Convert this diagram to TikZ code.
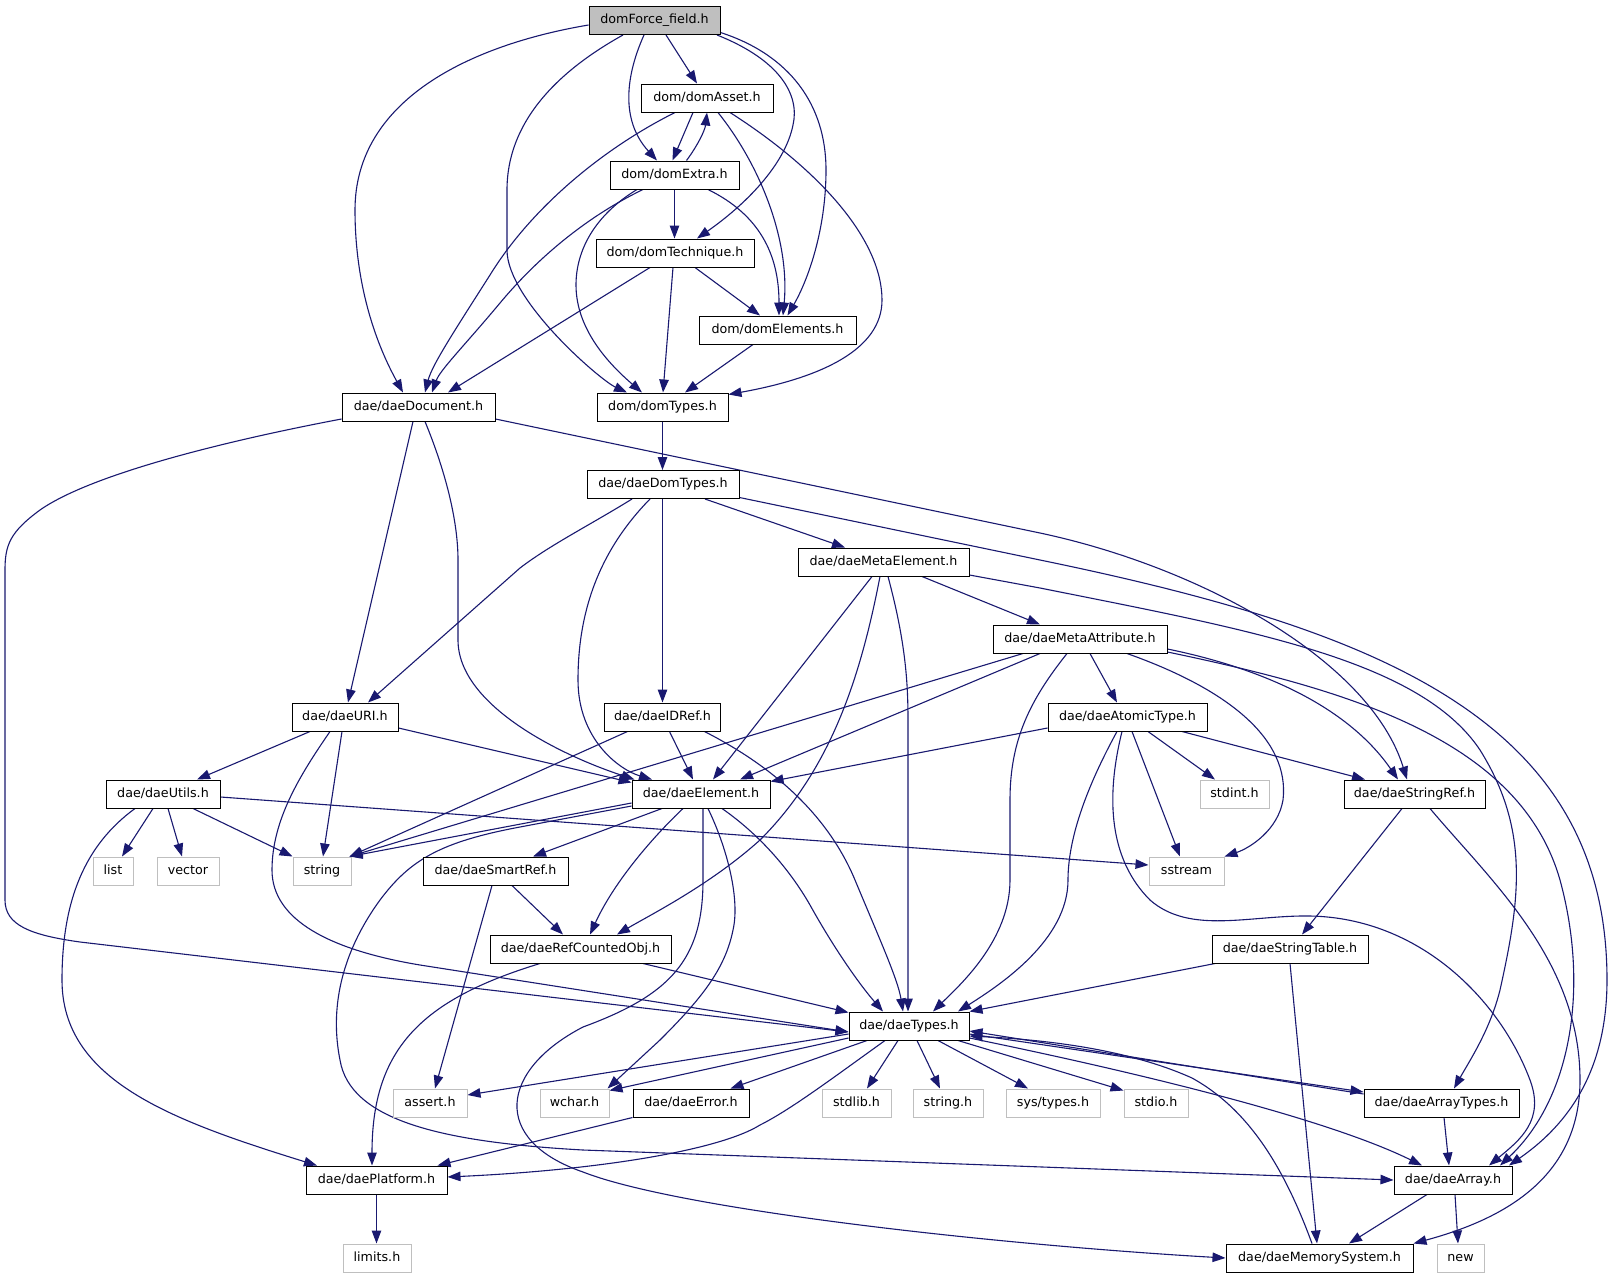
\documentclass[tikz,border=0pt]{standalone}
\usepackage{fontspec}
\newfontfamily\hfont{DejaVu Sans}
\usetikzlibrary{arrows.meta,backgrounds,calc}
\definecolor{edgeblue}{HTML}{191970}
\definecolor{sysgray}{HTML}{BFBFBF}
\begin{document}
\begin{tikzpicture}[x=1pt,y=-1pt,
  hdr/.style={draw=black, line width=1pt, fill=white, minimum height=28pt, inner sep=0pt,
    text height=9.3pt, text depth=2.5pt, font=\hfont\fontsize{12.7pt}{15pt}\selectfont},
  sys/.style={hdr, draw=sysgray},
  rootn/.style={hdr, fill=sysgray},
  edge/.style={draw=edgeblue, line width=1.1pt, -{Triangle[length=13pt,width=9.5pt]}}]
\useasboundingbox (0,0) rectangle (1612,1277);
% nodes
\node[rootn, minimum width=131pt] (root) at (654.5,20.5) {domForce\_field.h};
\node[hdr, minimum width=132pt] (asset) at (707,98) {dom/domAsset.h};
\node[hdr, minimum width=129pt] (extra) at (674.5,175) {dom/domExtra.h};
\node[hdr, minimum width=158pt] (tech) at (675,253) {dom/domTechnique.h};
\node[hdr, minimum width=157pt] (elems) at (777.5,330) {dom/domElements.h};
\node[hdr, minimum width=153pt] (doc) at (418.5,407) {dae/daeDocument.h};
\node[hdr, minimum width=131pt] (domtypes) at (662.5,407) {dom/domTypes.h};
\node[hdr, minimum width=152pt] (ddt) at (663,484.5) {dae/daeDomTypes.h};
\node[hdr, minimum width=171pt] (metael) at (883.5,562) {dae/daeMetaElement.h};
\node[hdr, minimum width=174pt] (metaattr) at (1080,639) {dae/daeMetaAttribute.h};
\node[hdr, minimum width=106pt] (uri) at (345,717) {dae/daeURI.h};
\node[hdr, minimum width=116pt] (idref) at (662.5,717) {dae/daeIDRef.h};
\node[hdr, minimum width=159pt] (atomic) at (1127.5,717) {dae/daeAtomicType.h};
\node[hdr, minimum width=114pt] (utils) at (163,794) {dae/daeUtils.h};
\node[hdr, minimum width=138pt] (element) at (701,794) {dae/daeElement.h};
\node[sys, minimum width=69pt] (stdint) at (1234.5,794) {stdint.h};
\node[hdr, minimum width=141pt] (stringref) at (1414.5,794) {dae/daeStringRef.h};
\node[sys, minimum width=40pt] (list) at (113,871) {list};
\node[sys, minimum width=62pt] (vector) at (188,871) {vector};
\node[sys, minimum width=58pt] (string) at (322,871) {string};
\node[hdr, minimum width=145pt] (smartref) at (495.5,871) {dae/daeSmartRef.h};
\node[sys, minimum width=75pt] (sstream) at (1186.5,871) {sstream};
\node[hdr, minimum width=181pt] (refc) at (580.5,949) {dae/daeRefCountedObj.h};
\node[hdr, minimum width=156pt] (stable) at (1290,949) {dae/daeStringTable.h};
\node[hdr, minimum width=120pt] (types) at (909,1026) {dae/daeTypes.h};
\node[sys, minimum width=74pt] (assert) at (430,1103) {assert.h};
\node[sys, minimum width=69pt] (wchar) at (574.5,1103) {wchar.h};
\node[hdr, minimum width=116pt] (error) at (691,1103) {dae/daeError.h};
\node[sys, minimum width=69pt] (stdlib) at (856.5,1103) {stdlib.h};
\node[sys, minimum width=70pt] (stringh) at (948,1103) {string.h};
\node[sys, minimum width=94pt] (systypes) at (1053,1103) {sys/types.h};
\node[sys, minimum width=64pt] (stdio) at (1156,1103) {stdio.h};
\node[hdr, minimum width=155pt] (arrt) at (1441.5,1103) {dae/daeArrayTypes.h};
\node[hdr, minimum width=141pt] (platform) at (376.5,1180) {dae/daePlatform.h};
\node[hdr, minimum width=118pt] (array) at (1453,1180) {dae/daeArray.h};
\node[sys, minimum width=68pt] (limits) at (377,1258) {limits.h};
\node[hdr, minimum width=187pt] (memsys) at (1319.5,1258) {dae/daeMemorySystem.h};
\node[sys, minimum width=47pt] (nnew) at (1460.5,1258) {new};
\begin{pgfonlayer}{background}
\fill[white] (0,0) rectangle (1612,1277);
% root
\draw[edge] ([yshift=-4.5pt]root.west) .. controls (470,45) and (355,100) .. (355,210) .. controls (355,300) and (385,360) .. ([xshift=-15.5pt]doc.north);
\draw[edge] ([xshift=-31.5pt]root.south) .. controls (560,70) and (507,120) .. (507,190) -- (507,250) .. controls (507,300) and (600,380) .. ([xshift=-35.5pt]domtypes.north);
\draw[edge] ([xshift=-10.5pt]root.south) .. controls (626,75) and (620,120) .. ([xshift=-17.5pt]extra.north);
\draw[edge] ([xshift=11.5pt]root.south) -- ([xshift=-10pt]asset.north);
\draw[edge] ([xshift=62.5pt]root.south) .. controls (780,60) and (800,95) .. (793,125) .. controls (785,165) and (745,205) .. ([xshift=22pt]tech.north);
\draw[edge] ([yshift=2.5pt]root.south east) .. controls (790,55) and (826,105) .. (826,170) .. controls (826,230) and (808,280) .. ([xshift=10pt]elems.north);
% asset
\draw[edge] ([xshift=-14pt]asset.south) -- ([xshift=-2pt]extra.north);
\draw[edge] ([xshift=12pt]extra.north) .. controls (698,145) and (705,130) .. (asset.south);
\draw[edge] ([xshift=-32pt]asset.south) .. controls (600,150) and (530,210) .. (490,275) .. controls (455,330) and (432,365) .. ([xshift=6.5pt]doc.north);
\draw[edge] ([xshift=11pt]asset.south) .. controls (760,165) and (790,240) .. ([xshift=5.5pt]elems.north);
\draw[edge] ([xshift=23pt]asset.south) .. controls (820,170) and (882,240) .. (882,300) .. controls (882,350) and (820,378) .. ([yshift=-2pt]domtypes.north east);
% extra
\draw[edge] (extra.south) -- (extra.south |- tech.north);
\draw[edge] ([xshift=-31.5pt]extra.south) .. controls (590,215) and (540,255) .. (500,303) .. controls (465,345) and (440,370) .. ([xshift=13.5pt]doc.north);
\draw[edge] ([xshift=-37.5pt]extra.south) .. controls (595,215) and (576,250) .. (576,285) .. controls (576,330) and (610,365) .. ([xshift=-20.5pt]domtypes.north);
\draw[edge] ([xshift=33.5pt]extra.south) .. controls (760,215) and (779,255) .. ([xshift=1.5pt]elems.north);
% tech, elems, domtypes
\draw[edge] ([xshift=-25pt]tech.south) -- ([xshift=29.5pt]doc.north);
\draw[edge] ([xshift=-2pt]tech.south) -- ([xshift=0.5pt]domtypes.north);
\draw[edge] ([xshift=20pt]tech.south) -- ([xshift=-17.5pt]elems.north);
\draw[edge] ([xshift=-24.5pt]elems.south) -- ([xshift=22.5pt]domtypes.north);
\draw[edge] (domtypes.south) -- (domtypes.south |- ddt.north);
% doc
\draw[edge] ([yshift=-12pt]doc.west) .. controls (220,442) and (90,475) .. (40,510) .. controls (10,532) and (5,545) .. (5,570) -- (5,900) .. controls (5,925) and (30,935) .. (80,942) -- ([yshift=-6pt]types.west);
\draw[edge] ([xshift=-5.5pt]doc.south) -- ([xshift=3pt]uri.north);
\draw[edge] ([xshift=6.5pt]doc.south) .. controls (445,470) and (458,520) .. (458,560) -- (458,640) .. controls (458,705) and (560,755) .. ([xshift=3pt]element.north west);
\draw[edge] ([yshift=-12pt]doc.east) -- (1040,533) .. controls (1200,567) and (1370,660) .. ([xshift=-7.5pt]stringref.north);
% ddt
\draw[edge] ([xshift=-31pt]ddt.south) .. controls (590,525) and (550,545) .. (520,568) -- ([xshift=23pt]uri.north);
\draw[edge] ([xshift=-13pt]ddt.south) .. controls (600,550) and (578,610) .. (578,680) .. controls (578,740) and (620,770) .. ([xshift=-49pt]element.north);
\draw[edge] ([xshift=-0.5pt]ddt.south) -- (idref.north);
\draw[edge] ([xshift=42pt]ddt.south) -- ([xshift=-38.5pt]metael.north);
\draw[edge] ([yshift=-13pt]ddt.east) -- (1040,560) .. controls (1380,630) and (1607,720) .. (1607,980) .. controls (1607,1080) and (1560,1130) .. ([xshift=56pt]array.north);
% metael
\draw[edge] ([xshift=38.5pt]metael.south) -- ([xshift=-40pt]metaattr.north);
\draw[edge] ([xshift=-11.5pt]metael.south) -- ([xshift=12pt]element.north);
\draw[edge] ([xshift=-3.5pt]metael.south) .. controls (860,680) and (830,770) .. (760,840) .. controls (710,885) and (650,915) .. ([xshift=36.5pt]refc.north);
\draw[edge] ([xshift=4.5pt]metael.south) .. controls (905,640) and (908,680) .. (908,720) -- ([xshift=-1pt]types.north);
\draw[edge] ([yshift=-13pt]metael.east) -- (1040,588) .. controls (1250,630) and (1420,660) .. (1480,750) .. controls (1530,830) and (1520,900) .. (1500,990) .. controls (1490,1030) and (1470,1060) .. ([xshift=12.5pt]arrt.north);
% metaattr
\draw[edge] ([xshift=10pt]metaattr.south) -- ([xshift=-10.5pt]atomic.north);
\draw[edge] ([xshift=-40pt]metaattr.south) -- ([xshift=39pt]element.north);
\draw[edge] ([xshift=-57pt]metaattr.south) -- ([xshift=-2pt]string.north east);
\draw[edge] ([xshift=-13pt]metaattr.south) .. controls (1030,700) and (1010,740) .. (1010,800) -- (1010,880) .. controls (1010,940) and (960,985) .. ([xshift=24pt]types.north);
\draw[edge] ([xshift=47pt]metaattr.south) .. controls (1230,690) and (1290,740) .. (1283,800) .. controls (1278,830) and (1250,848) .. (sstream.north east);
\draw[edge] ([yshift=-10pt]metaattr.east) .. controls (1270,670) and (1350,710) .. ([xshift=-16.5pt]stringref.north);
\draw[edge] ([yshift=-13pt]metaattr.east) .. controls (1350,690) and (1520,740) .. (1560,880) .. controls (1590,990) and (1570,1100) .. ([xshift=47pt]array.north);
% atomic
\draw[edge] ([yshift=-11pt]atomic.west) -- ([yshift=-2pt]element.north east);
\draw[edge] ([xshift=-10.5pt]atomic.south) .. controls (1085,790) and (1068,840) .. (1068,880) .. controls (1068,940) and (1000,985) .. ([xshift=49pt]types.north);
\draw[edge] ([xshift=20.5pt]atomic.south) -- ([xshift=-19.5pt]stdint.north);
\draw[edge] ([xshift=4.5pt]atomic.south) -- ([xshift=-6.5pt]sstream.north);
\draw[edge] ([xshift=54.5pt]atomic.south) -- ([xshift=-49.5pt]stringref.north);
\draw[edge] ([xshift=-5.5pt]atomic.south) .. controls (1105,800) and (1110,860) .. (1150,900) .. controls (1190,935) and (1250,915) .. (1310,916) .. controls (1420,918) and (1500,1000) .. (1530,1080) .. controls (1545,1120) and (1520,1140) .. ([xshift=36pt]array.north);
% uri
\draw[edge] ([xshift=-35pt]uri.south) -- ([xshift=34pt]utils.north);
\draw[edge] ([xshift=-3pt]uri.south) -- ([xshift=1pt]string.north);
\draw[edge] ([yshift=-11pt]uri.east) -- ([yshift=-3pt]element.north west);
\draw[edge] ([xshift=-15pt]uri.south) .. controls (300,775) and (272,820) .. (272,870) .. controls (272,920) and (330,950) .. (420,965) -- ([yshift=-6pt]types.west);
% idref
\draw[edge] ([xshift=-35pt]idref.south) -- ([xshift=-2pt]string.north east);
\draw[edge] ([xshift=7pt]idref.south) -- ([xshift=-8pt]element.north);
\draw[edge] ([xshift=42pt]idref.south) .. controls (780,770) and (830,820) .. (855,880) .. controls (880,940) and (898,980) .. ([xshift=-6pt]types.north);
% utils
\draw[edge] ([xshift=-10pt]utils.south) -- ([xshift=9pt]list.north);
\draw[edge] ([xshift=5pt]utils.south) -- ([xshift=-6pt]vector.north);
\draw[edge] ([xshift=30pt]utils.south) -- (string.north west);
\draw[edge] ([yshift=-3pt]utils.east) -- ([yshift=6pt]sstream.west);
\draw[edge] ([xshift=-28pt]utils.south) .. controls (85,845) and (62,900) .. (62,980) .. controls (62,1080) and (170,1120) .. ([xshift=-59.5pt]platform.north);
% element
\draw[edge] ([yshift=-9pt]element.west) -- ([xshift=-2pt]string.north east);
\draw[edge] ([xshift=-39pt]element.south) -- ([xshift=37.5pt]smartref.north);
\draw[edge] ([xshift=-18pt]element.south) .. controls (655,835) and (615,880) .. ([xshift=9.5pt]refc.north);
\draw[edge] ([xshift=21pt]element.south) .. controls (760,835) and (790,870) .. (810,905) .. controls (835,950) and (860,985) .. ([xshift=-26pt]types.north);
\draw[edge] ([xshift=7pt]element.south) .. controls (728,850) and (740,900) .. (733,930) .. controls (725,970) and (700,1000) .. (660,1040) -- ([xshift=-2pt]wchar.north east);
\draw[edge] ([xshift=2pt]element.south) -- (703,880) .. controls (703,960) and (670,995) .. (583,1027) .. controls (500,1070) and (490,1140) .. (583,1172) .. controls (680,1210) and (1000,1245) .. (memsys.west);
\draw[edge] ([yshift=-12pt]element.west) -- (520,827) .. controls (440,842) and (410,860) .. (380,900) .. controls (340,955) and (330,1010) .. (340,1060) .. controls (350,1120) and (440,1142) .. (583,1150) -- (array.west);
% smartref, refc
\draw[edge] ([xshift=16.5pt]smartref.south) -- ([xshift=-17.5pt]refc.north);
\draw[edge] ([xshift=-3.5pt]smartref.south) -- ([xshift=5pt]assert.north);
\draw[edge] ([xshift=62.5pt]refc.south) -- ([yshift=-1pt]types.north west);
\draw[edge] ([xshift=-40.5pt]refc.south) .. controls (420,1000) and (372,1050) .. ([xshift=-4.5pt]platform.north);
% types
\draw[edge] ([yshift=-8pt]types.west) -- ([yshift=8pt]assert.east);
\draw[edge] ([yshift=-12pt]types.west) -- ([yshift=-2pt]wchar.north east);
\draw[edge] ([xshift=-42pt]types.south) -- ([xshift=-19pt]error.north east);
\draw[edge] ([xshift=-24pt]types.south) .. controls (830,1080) and (790,1110) .. (760,1125) .. controls (720,1150) and (600,1170) .. ([yshift=3pt]platform.east);
\draw[edge] ([xshift=-11pt]types.south) -- ([xshift=10.5pt]stdlib.north);
\draw[edge] ([xshift=8pt]types.south) -- ([xshift=-8pt]stringh.north);
\draw[edge] ([xshift=29pt]types.south) -- ([xshift=-25pt]systypes.north);
\draw[edge] ([xshift=49pt]types.south) -- ([yshift=-2pt]stdio.north west);
\draw[edge] ([yshift=-8pt]types.east) -- ([yshift=11pt]arrt.west);
\draw[edge] ([yshift=9pt]arrt.west) -- ([yshift=-5pt]types.east);
\draw[edge] ([yshift=-12pt]types.east) .. controls (1150,1075) and (1330,1120) .. ([xshift=-31pt]array.north);
\draw[edge] ([xshift=-7.5pt]memsys.north) .. controls (1285,1170) and (1250,1110) .. (1192,1078) .. controls (1130,1050) and (1050,1040) .. ([yshift=-10pt]types.east);
% others
\draw[edge] (error.south west) -- ([xshift=-10pt]platform.north east);
\draw[edge] (platform.south) -- (platform.south |- limits.north);
\draw[edge] ([xshift=-12.5pt]stringref.south) -- ([xshift=12pt]stable.north);
\draw[edge] ([xshift=15.5pt]stringref.south) .. controls (1490,880) and (1580,960) .. (1580,1080) .. controls (1580,1180) and (1500,1220) .. (memsys.north east);
\draw[edge] ([xshift=-75pt]stable.south) -- (types.north east);
\draw[edge] (stable.south) -- ([xshift=-2.5pt]memsys.north);
\draw[edge] ([xshift=2.5pt]arrt.south) -- ([xshift=-4pt]array.north);
\draw[edge] ([xshift=-26pt]array.south) -- ([xshift=29.5pt]memsys.north);
\draw[edge] ([xshift=2pt]array.south) -- ([xshift=-2.5pt]nnew.north);
\end{pgfonlayer}
\end{tikzpicture}
\end{document}
